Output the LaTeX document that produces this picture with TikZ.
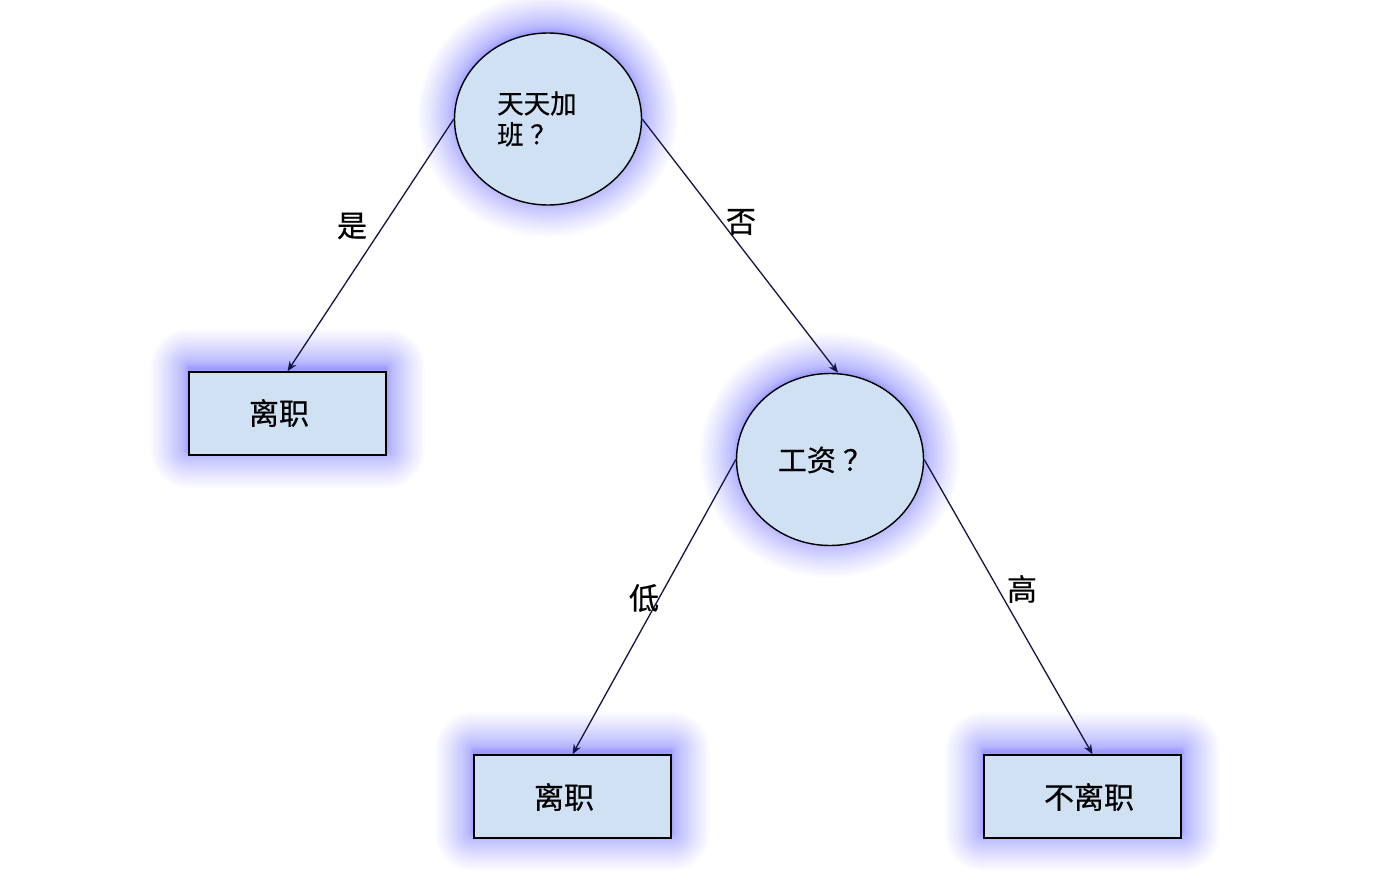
\documentclass[tikz,border=0pt]{standalone}
\usepackage{fontspec}
\setmainfont{Noto Sans CJK SC}[FakeBold=0.5]
\usetikzlibrary{arrows.meta,shapes.geometric,backgrounds,calc}
\definecolor{nodefill}{RGB}{207,225,242}
\definecolor{glowc}{RGB}{100,100,255}
\definecolor{edgec}{RGB}{20,20,70}
\begin{document}
\begin{tikzpicture}[x=1pt,y=-1pt,
  ellnode/.style={ellipse, draw=black, line width=1.4pt, fill=nodefill, minimum width=187pt, minimum height=172pt, inner sep=0pt},
  boxnode/.style={rectangle, draw=black, line width=1.4pt, fill=nodefill, minimum width=197pt, minimum height=83pt, inner sep=0pt},
  txt/.style={font=\fontsize{30}{32}\selectfont, inner sep=0pt},
  edge/.style={draw=edgec, line width=1.3pt, -{Stealth[length=10pt,width=8pt]}},
  lbl/.style={font=\fontsize{30}{32}\selectfont, inner sep=0pt},
  glowfill/.style={fill=glowc, opacity=0.026}]
\useasboundingbox (0,0) rectangle (1376,882);
% nodes
\node[ellnode] (e1) at (548,119) {};
\node[ellnode] (e2) at (830,459.5) {};
\node[boxnode] (b1) at (287.5,413.5) {};
\node[boxnode] (b2) at (572.5,796.5) {};
\node[boxnode] (b3) at (1082.5,796.5) {};
% glow
\begin{scope}[on background layer]
\fill[white] (0,0) rectangle (1376,882);
\foreach \n in {e1,e2}{
  \foreach \i in {0,...,29}{
    \pgfmathsetmacro{\d}{0.045*\i*\i}
    \path[glowfill] ($(\n.center)+(0,-4)$) ellipse [x radius={92+\d}, y radius={84+\d}];
  }
}
\foreach \n in {b1,b2,b3}{
  \foreach \i in {0,...,29}{
    \pgfmathsetmacro{\d}{0.045*\i*\i}
    \path[glowfill, rounded corners={\d}] ($(\n.north west)+(-\d,-\d-4)$) rectangle ($(\n.south east)+(\d,\d-6)$);
  }
}
\end{scope}
% texts
\node[align=left, anchor=west, font=\fontsize{26.5}{31}\selectfont, inner sep=0pt] (t1) at (497,119) {天天加\\班\kern0.25em？};
\node[txt, font=\fontsize{29}{30}\selectfont] (t2) at (825,460) {工资\kern0.25em？};
\node[txt] (t3) at (279,413) {离职};
\node[txt] (t4) at (564,797) {离职};
\node[txt] (t5) at (1089,797) {不离职};
% edges
\draw[edge] (e1.west) -- (b1.north);
\draw[edge] (e1.east) -- ([xshift=8pt]e2.north);
\draw[edge] (e2.west) -- (b2.north);
\draw[edge] (e2.east) -- ([xshift=10pt]b3.north);
% labels
\node[lbl] (l1) at (352,226) {是};
\node[lbl] (l2) at (741,222) {否};
\node[lbl] (l3) at (644,598) {低};
\node[lbl] (l4) at (1022,589) {高};
\end{tikzpicture}
\end{document}
